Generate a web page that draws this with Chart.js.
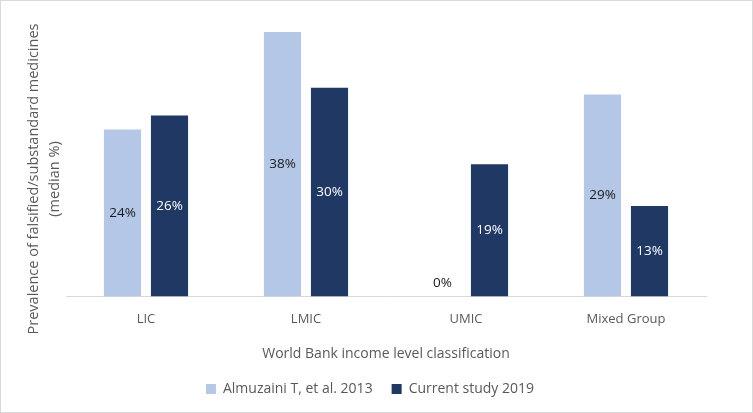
<!DOCTYPE html>
<html>
<head>
<meta charset="utf-8">
<script src="https://cdn.jsdelivr.net/npm/chart.js@4"></script>
<style>
    body { margin: 0; background: #fff; }
    .wrap { width: 753px; height: 413px; border: 1px solid #d9d9d9; box-sizing: border-box; }
</style>
</head>
<body>
<div class="wrap">
    <canvas id="barChart" width="751" height="411"></canvas>
</div>
<script>
// Chart data
const categories = ["LIC", "LMIC", "UMIC", "Mixed Group"];
const almuzaini2013 = [24, 38, 0, 29];
const currentStudy2019 = [26, 30, 19, 13];
const seriesNames = ["Almuzaini T, et al. 2013", "Current study 2019"];
const yTitleLines = ["Prevalence of falsified/substandard medicines", "(median %)"];
const xTitle = "World Bank income level classification";

const FONT = "Open Sans";
const GREY = "#595959";

// Labels in the middle of each bar
const barLabels = {
    id: "barLabels",
    afterDatasetsDraw(chart) {
        const ctx = chart.ctx;
        ctx.save();
        ctx.font = "13.5px '" + FONT + "'";
        ctx.textAlign = "center";
        ctx.textBaseline = "middle";
        chart.data.datasets.forEach((ds, i) => {
            const meta = chart.getDatasetMeta(i);
            meta.data.forEach((bar, j) => {
                const v = ds.data[j];
                let y = (bar.y + bar.base) / 2;
                if (v === 0) y = bar.base - 13;
                ctx.fillStyle = i === 0 ? "#1a1a1a" : "#ffffff";
                ctx.fillText(v + "%", bar.x, y);
            });
        });
        ctx.restore();
    },
};

// Two-line rotated y axis title
const yTitle = {
    id: "yTitle",
    afterDraw(chart) {
        const ctx = chart.ctx;
        ctx.save();
        ctx.font = "14.5px '" + FONT + "'";
        ctx.fillStyle = GREY;
        ctx.textAlign = "center";
        ctx.textBaseline = "middle";
        ctx.translate(33, 178);
        ctx.rotate(-Math.PI / 2);
        ctx.fillText(yTitleLines[0], 0, 0);
        ctx.fillText(yTitleLines[1], 0, 21);
        ctx.restore();
    },
};

// legend sits a bit left of the plot centre in the original
const legendShift = {
    id: "legendShift",
    beforeDraw(chart) {
        chart.legend.left -= 16;
        chart.legend.right -= 16;
    },
};

const ctx = document.getElementById("barChart").getContext("2d");
new Chart(ctx, {
    type: "bar",
    data: {
        labels: categories,
        datasets: [
            {
                label: seriesNames[0],
                data: almuzaini2013,
                backgroundColor: "#B4C7E7",
                categoryPercentage: 0.5875,
                barPercentage: 0.79,
            },
            {
                label: seriesNames[1],
                data: currentStudy2019,
                backgroundColor: "#203864",
                categoryPercentage: 0.5875,
                barPercentage: 0.79,
            },
        ],
    },
    options: {
        responsive: false,
        animation: false,
        layout: { padding: { left: 65, right: 46, top: 17, bottom: 6 } },
        scales: {
            x: {
                grid: { display: false },
                border: { color: "#d9d9d9" },
                ticks: { color: GREY, font: { family: FONT, size: 13 }, padding: 7 },
                title: {
                    display: true,
                    text: xTitle,
                    color: GREY,
                    font: { family: FONT, size: 14 },
                    padding: { top: 11, bottom: 1 },
                },
            },
            y: { display: false, min: 0, max: 40 },
        },
        plugins: {
            legend: {
                position: "bottom",
                labels: {
                    color: GREY,
                    font: { family: FONT, size: 14 },
                    boxWidth: 10,
                    boxHeight: 10,
                    padding: 19,
                },
            },
            tooltip: { enabled: false },
        },
    },
    plugins: [barLabels, yTitle, legendShift],
});
</script>
</body>
</html>
